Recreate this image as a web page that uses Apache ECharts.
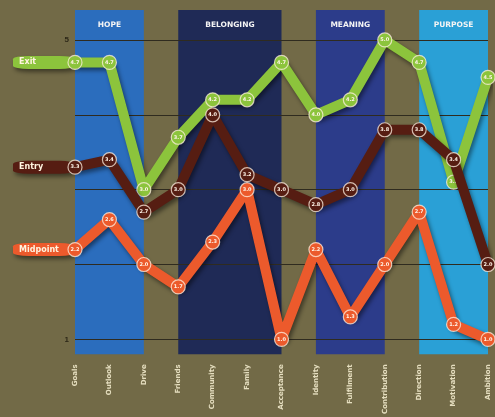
<!DOCTYPE html>
<html>
<head>
<meta charset="utf-8">
<style>
  html, body { margin: 0; padding: 0; background: #726a47; }
  #chart { width: 495px; height: 417px; }
</style>
<script src="https://cdn.jsdelivr.net/npm/echarts@6/dist/echarts.min.js"></script>
</head>
<body>
<div id="chart"></div>
<script>
// Survey items, grouped into four themes
const items = ['Goals', 'Outlook', 'Drive', 'Friends', 'Community', 'Family', 'Acceptance',
               'Identity', 'Fulfilment', 'Contribution', 'Direction', 'Motivation', 'Ambition'];

// Theme bands: [title, first item index, last item index]
const themes = [
  ['HOPE', 0, 2],
  ['BELONGING', 3, 6],
  ['MEANING', 7, 9],
  ['PURPOSE', 10, 12]
];
const themeColors = ['#2b6dbd', '#1f2a56', '#2c3c8a', '#2aa0d6'];

// Average ratings (1–5) at each survey point
const exitScores     = [4.7, 4.7, 3.0, 3.7, 4.2, 4.2, 4.7, 4.0, 4.2, 5.0, 4.7, 3.1, 4.5];
const entryScores    = [3.3, 3.4, 2.7, 3.0, 4.0, 3.2, 3.0, 2.8, 3.0, 3.8, 3.8, 3.4, 2.0];
const midpointScores = [2.2, 2.6, 2.0, 1.7, 2.3, 3.0, 1.0, 2.2, 1.3, 2.0, 2.7, 1.2, 1.0];

// Rating scale guides; only the ends are labelled
const scaleLines = [1, 2, 3, 4, 5];
const scaleLabels = [1, 5];

// Bands run a little past both ends of the scale
const bandTop = 5.4;
const bandBottom = 0.8;

const chart = echarts.init(document.getElementById('chart'));

function ratingSeries(name, values, color, z) {
  return {
    name: name,
    type: 'line',
    data: values,
    z: z,
    clip: false,
    symbol: 'circle',
    symbolSize: 14,
    lineStyle: {
      color: color, width: 10,
      shadowColor: 'rgba(0,0,0,0.45)', shadowBlur: 4, shadowOffsetX: 2, shadowOffsetY: 3
    },
    itemStyle: {
      color: color, borderColor: 'rgba(255,240,225,0.75)', borderWidth: 1.2
    },
    label: {
      show: true, position: 'inside', fontSize: 5, fontWeight: 'bold',
      color: '#fff4e8', fontFamily: 'DejaVu Sans',
      formatter: p => p.value.toFixed(1)
    },
    // series name tag drawn as an extension of the line to the left of the first item
    markPoint: {
      z: 2,
      symbol: 'roundRect',
      symbolSize: [62, 13],
      symbolOffset: [-31, 0],
      itemStyle: {
        color: color,
        shadowColor: 'rgba(0,0,0,0.45)', shadowBlur: 4, shadowOffsetX: 2, shadowOffsetY: 3
      },
      label: {
        show: true, position: 'inside', align: 'left', offset: [-25, 0],
        color: '#fff4e0', fontSize: 8, fontWeight: 'bold', fontFamily: 'DejaVu Sans',
        formatter: name
      },
      data: [{ coord: [0, values[0]] }]
    }
  };
}

const option = {
  backgroundColor: '#726a47',
  animation: false,
  grid: { left: 75, right: 7, top: 10, bottom: 61 },
  xAxis: {
    type: 'category',
    data: items,
    boundaryGap: false,
    axisLine: { show: false },
    axisTick: { show: false },
    axisLabel: {
      rotate: 90, margin: 10, fontSize: 7, color: '#e6dfc0',
      fontFamily: 'DejaVu Sans', fontWeight: 'bold', interval: 0
    },
    splitLine: { show: false }
  },
  yAxis: {
    type: 'value',
    min: bandBottom, max: bandTop,
    axisLine: { show: false },
    axisTick: { show: false },
    axisLabel: { show: false },
    splitLine: { show: false }
  },
  series: [
    {
      name: 'themes',
      type: 'line',
      data: [],
      silent: true,
      markArea: {
        silent: true,
        z: 1,
        label: {
          show: true, position: 'insideTop', distance: 11,
          color: '#f4f4f4', fontSize: 7.5, fontWeight: 'bold',
          fontFamily: 'DejaVu Sans'
        },
        data: themes.map((t, i) => [
          { name: t[0], xAxis: items[t[1]], yAxis: bandTop, itemStyle: { color: themeColors[i] } },
          { xAxis: items[t[2]], yAxis: bandBottom }
        ])
      },
      markLine: {
        silent: true,
        z: 1.5,
        symbol: 'none',
        lineStyle: { color: '#2f2b1f', width: 1, type: 'solid' },
        label: {
          show: true, position: 'start', distance: 6,
          color: '#2d2818', fontSize: 8, fontWeight: 'bold',
          formatter: p => (scaleLabels.indexOf(p.value) >= 0 ? String(p.value) : '')
        },
        data: scaleLines.map(v => ({ yAxis: v }))
      }
    },
    ratingSeries('Exit', exitScores, '#8cc43c', 3),
    ratingSeries('Entry', entryScores, '#561d12', 4),
    ratingSeries('Midpoint', midpointScores, '#ec5a2c', 5)
  ]
};

chart.setOption(option);
</script>
</body>
</html>
